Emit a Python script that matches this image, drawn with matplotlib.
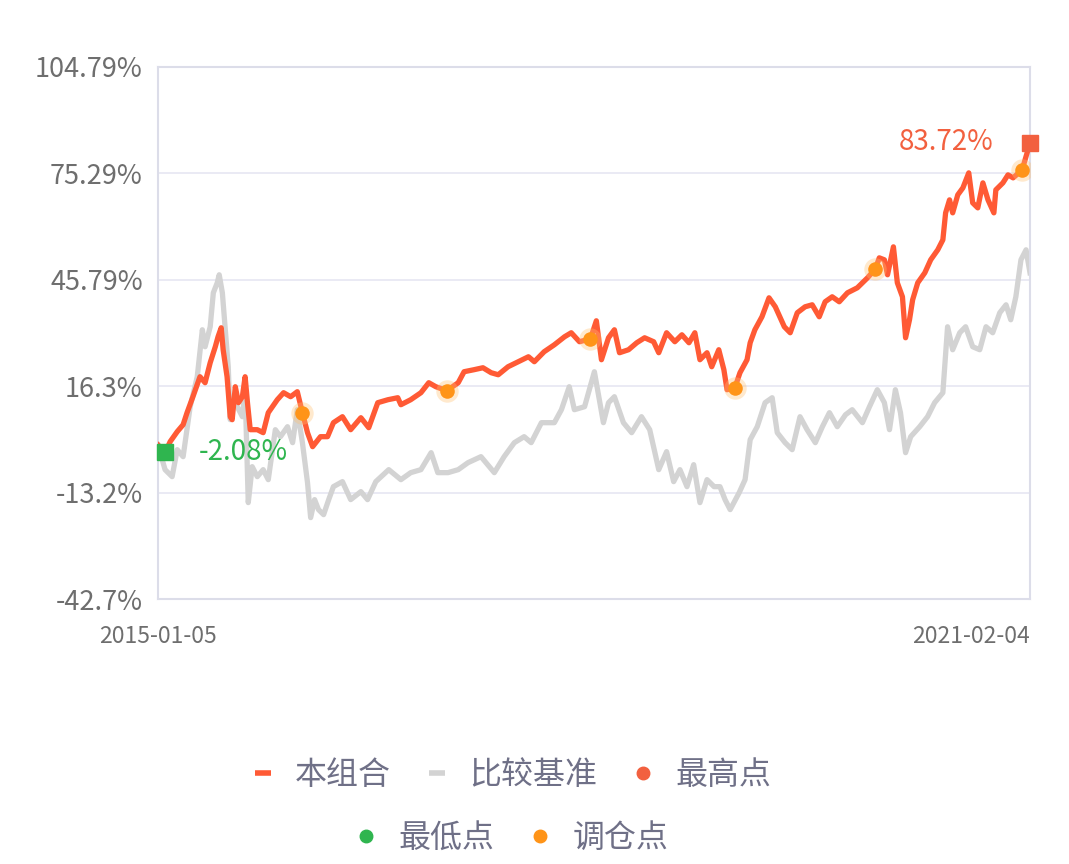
import numpy as np
import pandas as pd
import matplotlib.pyplot as plt
from matplotlib.lines import Line2D

plt.rcParams['font.family'] = ['Noto Sans CJK SC', 'DejaVu Sans']

# ----- Data -----
start_date = pd.Timestamp("2015-01-05")
end_label = "2021-02-04"

# portfolio: days since start, cumulative return %
port_days = [0, 18, 31, 49, 64, 74, 89, 107, 120, 133, 146, 153, 161, 166, 176, 184, 189, 197,
             205, 215, 222, 228, 235, 253, 268, 281, 304, 320, 338, 355, 368, 381, 394, 414,
             432, 447, 470, 491, 517, 537, 560, 586, 611, 619, 644, 670, 690, 708, 736, 765,
             780, 805, 828, 849, 867, 892, 918, 944, 959, 984, 1010, 1036, 1053, 1074, 1102,
             1117, 1130, 1148, 1163, 1176, 1199, 1220, 1240, 1263, 1276, 1296, 1317, 1335,
             1353, 1368, 1381, 1399, 1411, 1429, 1442, 1450, 1470, 1483, 1501, 1509, 1521,
             1539, 1557, 1573, 1596, 1611, 1629, 1649, 1667, 1685, 1700, 1718, 1736, 1757,
             1782, 1808, 1828, 1838, 1851, 1859, 1874, 1884, 1897, 1905, 1915, 1923, 1936,
             1954, 1969, 1987, 2000, 2007, 2017, 2025, 2038, 2051, 2066, 2076, 2089, 2102,
             2115, 2130, 2135, 2153, 2166, 2179, 2202, 2222]
port_vals = [0.0, -2.08, 0.92, 3.69, 5.62, 8.95, 13.38, 18.92, 17.26, 22.80, 27.23, 30.00, 32.49,
             26.40, 18.92, 7.84, 7.01, 16.15, 11.72, 13.38, 18.92, 11.72, 4.24, 4.24, 3.41,
             8.95, 12.55, 14.49, 13.38, 14.77, 8.95, 3.41, -0.47, 2.30, 2.30, 6.18, 7.84, 4.24,
             7.56, 4.79, 11.72, 12.55, 13.10, 11.16, 12.55, 14.49, 17.26, 16.15, 15.04, 17.26,
             20.31, 20.86, 21.41, 20.03, 19.47, 21.69, 23.08, 24.46, 23.08, 25.85, 27.78, 30.00,
             31.11, 28.62, 29.45, 34.43, 23.63, 29.72, 31.94, 25.57, 26.40, 28.34, 29.72, 28.62,
             25.57, 31.11, 28.62, 30.55, 28.34, 31.11, 23.63, 25.57, 21.69, 26.40, 20.86, 15.32,
             15.87, 20.03, 23.63, 28.34, 31.94, 35.54, 40.80, 38.31, 32.77, 31.11, 36.65, 38.31,
             38.86, 35.54, 39.70, 41.08, 39.70, 42.19, 43.57, 46.34, 48.84, 51.88, 51.33, 47.18,
             54.93, 44.96, 41.08, 29.72, 34.71, 40.25, 44.96, 47.73, 51.33, 54.10, 56.87, 64.35,
             67.95, 64.35, 69.34, 71.27, 75.43, 67.12, 65.73, 72.66, 67.95, 64.35, 70.72, 72.66,
             74.88, 74.05, 76.26, 83.72]

# benchmark: days since start, cumulative return %
bench_days = [0, 18, 36, 49, 64, 82, 100, 113, 120, 133, 141, 151, 156, 164, 171, 179, 184, 192,
              202, 215, 222, 230, 240, 253, 268, 281, 299, 312, 330, 343, 355, 368, 381, 389,
              399, 409, 422, 435, 447, 470, 491, 517, 534, 555, 588, 619, 644, 670, 696, 713,
              739, 765, 790, 823, 857, 882, 908, 933, 951, 977, 1010, 1028, 1048, 1061, 1087,
              1112, 1135, 1148, 1163, 1186, 1207, 1232, 1253, 1276, 1296, 1314, 1330, 1348,
              1365, 1381, 1399, 1417, 1432, 1445, 1458, 1481, 1496, 1509, 1527, 1547, 1565,
              1578, 1598, 1616, 1636, 1654, 1675, 1693, 1711, 1731, 1752, 1769, 1795, 1813,
              1833, 1851, 1864, 1879, 1892, 1905, 1918, 1941, 1961, 1979, 2000, 2012, 2025,
              2043, 2058, 2076, 2094, 2110, 2127, 2145, 2161, 2173, 2186, 2199, 2212, 2222]
bench_vals = [0.0, -6.84, -8.78, -1.30, -3.24, 10.61, 18.92, 31.94, 27.23, 32.77, 42.19, 44.96,
              47.18, 42.19, 32.77, 21.69, 7.01, 12.55, 10.61, 7.84, 15.32, -15.98, -6.01, -8.78,
              -6.84, -9.61, 4.24, 2.30, 5.07, 0.64, 9.78, 0.64, -10.44, -20.14, -15.15, -17.92,
              -19.31, -15.15, -11.55, -10.16, -15.15, -12.93, -15.15, -10.16, -6.84, -9.61,
              -7.67, -6.84, -2.13, -7.67, -7.67, -6.84, -4.90, -3.24, -7.67, -3.24, 0.64, 2.30,
              0.64, 6.18, 6.18, 9.78, 16.15, 9.78, 10.61, 20.31, 6.18, 11.72, 13.38, 6.18, 3.41,
              7.84, 4.24, -6.84, -1.85, -10.16, -6.84, -11.55, -5.46, -15.98, -9.61, -11.55,
              -11.55, -15.15, -17.92, -13.21, -9.61, 1.47, 5.07, 11.72, 13.10, 3.41, 0.64, -1.30,
              7.84, 4.24, 0.64, 5.07, 8.95, 5.07, 8.39, 9.78, 6.18, 10.61, 15.32, 11.72, 4.24,
              15.32, 8.95, -2.13, 2.30, 5.07, 7.84, 11.72, 14.49, 32.77, 26.40, 31.11, 32.77,
              27.23, 26.40, 32.77, 31.11, 36.65, 38.86, 34.71, 41.08, 51.33, 54.10, 47.73]

# rebalancing days (on the portfolio curve)
rebal_days = [368, 736, 1102, 1470, 1828, 2202]

yticks = [104.79, 75.29, 45.79, 16.3, -13.2, -42.7]
ytick_labels = ["104.79%", "75.29%", "45.79%", "16.3%", "-13.2%", "-42.7%"]

series_names = ["本组合", "比较基准", "最高点", "最低点", "调仓点"]

c_port = "#ff5a35"
c_bench = "#d3d3d3"
c_max = "#f2603f"
c_min = "#2fb54f"
c_rebal = "#ff9418"
c_axis = "#dcdde9"
c_text = "#6e6e6e"
c_legend = "#6f7087"

port_x = start_date + pd.to_timedelta(port_days, unit="D")
bench_x = start_date + pd.to_timedelta(bench_days, unit="D")
port_vals = np.array(port_vals)

fig = plt.figure(figsize=(10.69, 8.64), dpi=100)
ax = fig.add_axes([0.1478, 0.3067, 0.8157, 0.6158])

ax.plot(bench_x, bench_vals, color=c_bench, lw=3.8, solid_joinstyle="round", zorder=2)
ax.plot(port_x, port_vals, color=c_port, lw=3.8, solid_joinstyle="round", zorder=3)

# rebalance points with a soft glow
rb_x = start_date + pd.to_timedelta(rebal_days, unit="D")
rb_y = np.interp(rebal_days, port_days, port_vals)
ax.scatter(rb_x, rb_y, s=260, color="#ffc070", alpha=0.35, lw=0, zorder=4)
ax.scatter(rb_x, rb_y, s=110, color=c_rebal, lw=0, zorder=5)

# max / min
imax = int(np.argmax(port_vals))
imin = int(np.argmin(port_vals))
ax.plot(port_x[imax], port_vals[imax], marker="s", ms=12, color=c_max, zorder=6, clip_on=False)
ax.plot(port_x[imin], port_vals[imin], marker="s", ms=12, color=c_min, zorder=6, clip_on=False)
ax.annotate(f"{port_vals[imax]:.2f}%", (port_x[imax], port_vals[imax]), xytext=(-26, 1),
            textcoords="offset points", ha="right", va="center", color=c_max, fontsize=20)
ax.annotate(f"{port_vals[imin]:.2f}%", (port_x[imin], port_vals[imin]), xytext=(24, 0),
            textcoords="offset points", ha="left", va="center", color=c_min, fontsize=20)

# axes styling
ax.set_ylim(-42.7, 104.79)
ax.set_xlim(port_x[0], port_x[-1])
ax.set_yticks(yticks)
ax.set_yticklabels(ytick_labels)
ax.set_xticks([port_x[0], port_x[-1]])
ax.set_xticklabels([start_date.strftime("%Y-%m-%d"), end_label])
xl = ax.get_xticklabels()
xl[0].set_ha("center")
xl[1].set_ha("right")
ax.tick_params(axis="y", length=0, pad=11, labelsize=19.5, labelcolor=c_text)
ax.tick_params(axis="x", length=0, pad=19, labelsize=16.5, labelcolor=c_text)
ax.grid(axis="y", color="#e6e6f2", lw=1.2)
ax.set_axisbelow(True)
for sp in ax.spines.values():
    sp.set_color(c_axis)
    sp.set_linewidth(1.5)

# legend: two centred rows
h_line = lambda c: Line2D([], [], color=c, lw=4, solid_capstyle="butt")
h_dot = lambda c: Line2D([], [], color=c, marker="o", ms=9, lw=0)
row1 = [h_line(c_port), h_line(c_bench), h_dot(c_max)]
row2 = [h_dot(c_min), h_dot(c_rebal)]
leg_kw = dict(loc="center", frameon=False, handlelength=0.5, handletextpad=0.75,
              columnspacing=1.2, prop={"size": 23})
leg1 = fig.legend(row1, series_names[:3], ncol=3, bbox_to_anchor=(0.480, 0.103), **leg_kw)
leg2 = fig.legend(row2, series_names[3:], ncol=2, bbox_to_anchor=(0.480, 0.030), **leg_kw)
for lg in (leg1, leg2):
    for t in lg.get_texts():
        t.set_color(c_legend)

fig.savefig("out.png", dpi=100)
